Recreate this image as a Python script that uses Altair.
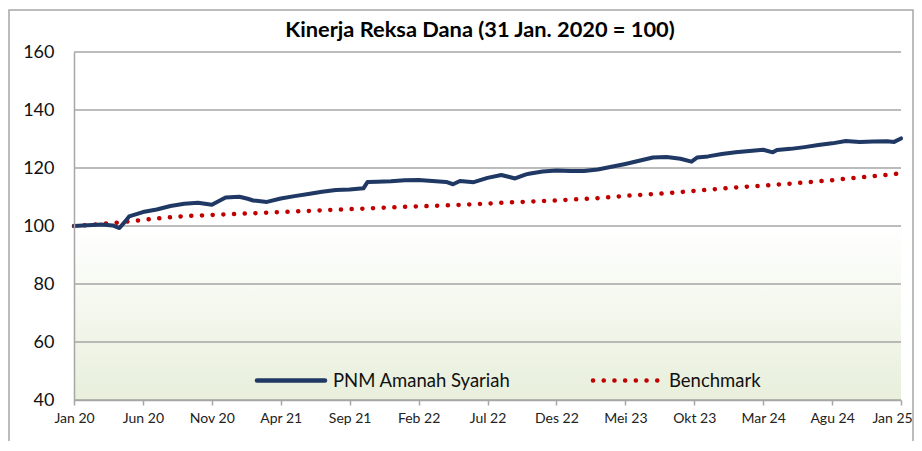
import json
import altair as alt
import pandas as pd

title_text = "Kinerja Reksa Dana (31 Jan. 2020 = 100)"
series_names = ["PNM Amanah Syariah", "Benchmark"]
tick_labels = ["Jan 20", "Jun 20", "Nov 20", "Apr 21", "Sep 21", "Feb 22", "Jul 22",
               "Des 22", "Mei 23", "Okt 23", "Mar 24", "Agu 24", "Jan 25"]
x_ticks = [0, 5, 10, 15, 20, 25, 30, 35, 40, 45, 50, 55, 60]
y_ticks = [40, 60, 80, 100, 120, 140, 160]

# months since 31 Jan 2020
fund_month = [0, 1, 2, 2.8, 3.3, 3.7, 4, 5, 6, 7, 8, 9, 10, 11, 12, 12.6, 13, 14, 15, 16,
              17, 18, 19, 20, 21, 21.3, 22, 23, 24, 25, 26, 27, 27.5, 28, 29, 30, 31, 32,
              32.8, 33, 34, 35, 36, 37, 38, 39, 40, 41, 42, 43, 44, 44.8, 45.2, 46, 47, 48,
              49, 50, 50.7, 51, 52, 53, 54, 55, 56, 57, 58, 59, 59.5, 60]
fund_value = [100.0, 100.3, 100.5, 100.2, 99.3, 101.5, 103.3, 104.8, 105.7, 106.9, 107.7,
              108.0, 107.3, 109.8, 110.1, 109.4, 108.8, 108.3, 109.5, 110.3, 111.0, 111.8,
              112.4, 112.6, 113.0, 115.2, 115.3, 115.4, 115.8, 115.9, 115.5, 115.2, 114.4,
              115.5, 115.1, 116.6, 117.6, 116.4, 117.8, 118.0, 118.8, 119.1, 119.0, 119.0,
              119.5, 120.4, 121.4, 122.5, 123.6, 123.8, 123.2, 122.2, 123.6, 124.0, 124.8,
              125.4, 125.9, 126.3, 125.4, 126.2, 126.6, 127.2, 127.9, 128.5, 129.3, 129.0,
              129.1, 129.2, 129.0, 130.2]

bench_month = list(range(61))
bench_value = [100.0, 100.3, 100.7, 101.1, 101.6, 102.1, 102.6, 103.0, 103.4, 103.6,
               103.8, 104.0, 104.2, 104.4, 104.6, 104.8, 105.0, 105.2, 105.4, 105.6,
               105.8, 106.0, 106.2, 106.4, 106.6, 106.8, 106.9, 107.1, 107.3, 107.5,
               107.7, 108.0, 108.2, 108.4, 108.6, 108.8, 109.1, 109.3, 109.6, 110.0,
               110.4, 110.7, 111.0, 111.3, 111.7, 112.1, 112.5, 112.9, 113.3, 113.6,
               113.9, 114.3, 114.6, 115.0, 115.4, 115.8, 116.3, 116.7, 117.2, 117.6, 118.2]

FUND_COLOR = "#1F3864"
BENCH_COLOR = "#C00000"
GRID_COLOR = "#A6A6A6"
FONT = "Lato"
W, H = 827, 348

fund_df = pd.DataFrame({"m": fund_month, "v": fund_value})
bench_df = pd.DataFrame({"m": bench_month, "v": bench_value})
grid_df = pd.DataFrame({"v": y_ticks})
band_df = pd.DataFrame({"x0": [x_ticks[0]], "x1": [x_ticks[-1]], "y0": [40], "y1": [100]})
one = pd.DataFrame({"a": [0]})

x_scale = alt.Scale(domain=[0, 60], nice=False, zero=False)
y_scale = alt.Scale(domain=[40, 160], nice=False, zero=False)

x_axis = alt.Axis(values=x_ticks, labelExpr=f"{json.dumps(tick_labels)}[round(datum.value/5)]",
                  title=None, grid=False, domainColor=GRID_COLOR, domainWidth=1.5,
                  tickColor=GRID_COLOR, tickWidth=1.5, tickSize=5, labelFont=FONT,
                  labelFontSize=14, labelColor="#222222", labelPadding=6,
                  labelOffset={"condition": {"test": "datum.value == 60", "value": -9}, "value": 0},
                  labelFlush=False, labelOverlap=False, zindex=1)
y_axis = alt.Axis(values=y_ticks, title=None, grid=False, domainColor=GRID_COLOR,
                  domainWidth=1.5, ticks=False, labelFont=FONT, labelFontSize=18,
                  labelColor="#111111", labelPadding=20, zindex=1)

X = lambda f: alt.X(f, type="quantitative", scale=x_scale, axis=x_axis)
Y = lambda f: alt.Y(f, type="quantitative", scale=y_scale, axis=y_axis)

frame = alt.Chart(one).mark_rect(fillOpacity=0, stroke=GRID_COLOR, strokeWidth=1.5).encode(
    x=alt.value(-65), x2=alt.value(W + 12), y=alt.value(-42), y2=alt.value(H + 80))

title = alt.Chart(pd.DataFrame({"t": [title_text]})).mark_text(
    align="center", baseline="middle", font=FONT, fontSize=21.8, fontWeight="bold",
    color="#000000").encode(text="t:N", x=alt.value(406), y=alt.value(-22))

band = alt.Chart(band_df).mark_rect(fill={
    "gradient": "linear",
    "stops": [{"offset": 0, "color": "#FFFFFF"}, {"offset": 1, "color": "#E8EFDB"}],
    "x1": 0, "x2": 0, "y1": 0, "y2": 1}).encode(
    x=X("x0"), x2="x1", y=Y("y0"), y2="y1")

grid = alt.Chart(grid_df).mark_rule(color=GRID_COLOR, strokeWidth=1.5).encode(
    y=Y("v"), x=alt.value(0), x2=alt.value(W))

bench = alt.Chart(bench_df).mark_line(color=BENCH_COLOR, strokeWidth=4.5, strokeDash=[0.1, 10.6],
                                      strokeCap="round").encode(x=X("m"), y=Y("v"))
fund = alt.Chart(fund_df).mark_line(color=FUND_COLOR, strokeWidth=4, strokeJoin="round",
                                    strokeCap="round").encode(x=X("m"), y=Y("v"))

LEG_Y = 328.5
leg_fund = alt.Chart(one).mark_rule(color=FUND_COLOR, strokeWidth=4.5, strokeCap="round").encode(
    x=alt.value(183), x2=alt.value(251), y=alt.value(LEG_Y))
leg_bench = alt.Chart(one).mark_rule(color=BENCH_COLOR, strokeWidth=4.5, strokeDash=[0.1, 10.6],
                                     strokeCap="round").encode(
    x=alt.value(519), x2=alt.value(587), y=alt.value(LEG_Y))
leg_fund_t = alt.Chart(pd.DataFrame({"n": [series_names[0]]})).mark_text(
    align="left", baseline="middle", font=FONT, fontSize=18.5, color="#111111").encode(
    text="n:N", x=alt.value(259), y=alt.value(LEG_Y))
leg_bench_t = alt.Chart(pd.DataFrame({"n": [series_names[1]]})).mark_text(
    align="left", baseline="middle", font=FONT, fontSize=18.5, color="#111111").encode(
    text="n:N", x=alt.value(595), y=alt.value(LEG_Y))

chart = alt.layer(frame, title, band, grid, bench, fund, leg_fund, leg_bench,
                  leg_fund_t, leg_bench_t).properties(
    width=W, height=H,
    padding={"left": 66, "top": 44, "right": 13, "bottom": 41},
    autosize="none",
    background="white",
).configure_view(stroke=None)

chart.save("out.html", embed_options={"renderer": "svg", "actions": False})
